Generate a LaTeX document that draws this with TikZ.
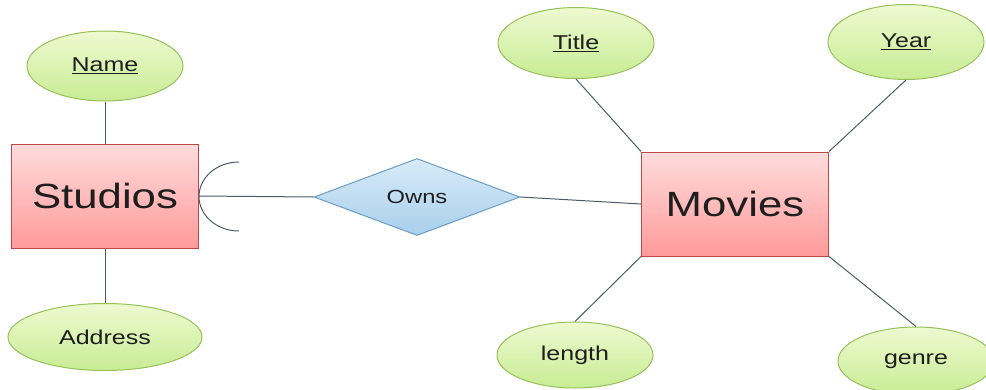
\documentclass[tikz,border=0pt]{standalone}
\usepackage{fontspec}
\setmainfont{Liberation Sans}[FakeStretch=1.25]
\usetikzlibrary{shapes.geometric}
\definecolor{attrtop}{HTML}{EDFAD0}
\definecolor{attrbot}{HTML}{C8EC94}
\definecolor{attrline}{HTML}{98C05A}
\definecolor{enttop}{HTML}{FFDCDC}
\definecolor{entbot}{HTML}{FF9A9A}
\definecolor{entline}{HTML}{BC4848}
\definecolor{reltop}{HTML}{D8EBF8}
\definecolor{relbot}{HTML}{A8CFEB}
\definecolor{relline}{HTML}{6C9DC4}
\definecolor{linkgray}{HTML}{505A66}
\definecolor{inkgray}{HTML}{1E1E1E}

\begin{document}
\begin{tikzpicture}[
    x=1pt,y=-1pt,
    attr/.style={ellipse,draw=attrline,line width=1pt,
        top color=attrtop,bottom color=attrbot,text=inkgray,
        minimum width=156pt,minimum height=70pt,inner sep=0pt,
        font=\fontsize{20}{22}\selectfont},
    entity/.style={rectangle,draw=entline,line width=1pt,
        top color=enttop,bottom color=entbot,text=inkgray,
        minimum width=187pt,minimum height=104pt,inner sep=0pt,
        font=\fontsize{35}{38}\selectfont},
    rel/.style={diamond,draw=relline,line width=1pt,
        top color=reltop,bottom color=relbot,aspect=2.66,text=inkgray,
        minimum width=206pt,minimum height=77pt,inner sep=0pt,
        font=\fontsize{19}{21}\selectfont},
    link/.style={draw=linkgray,line width=1pt},
    ]

    % Picture frame
    \useasboundingbox (0,0) rectangle (986,389);

    % Entities
    \node[entity] (studios) at (105,196) {Studios};
    \node[entity] (movies) at (735,204) {Movies};

    % Relationship
    \node[rel] (owns) at (417,197) {Owns};

    % Attributes of Studios
    \node[attr] (name) at (105,66) {\underline{Name}};
    \node[attr,minimum width=194pt,minimum height=67pt] (address) at (105,337) {Address};

    % Attributes of Movies
    \node[attr,minimum height=71pt] (title) at (576,43) {\underline{Title}};
    \node[attr,minimum height=75pt] (year) at (906,42) {\underline{Year}};
    \node[attr,minimum height=66pt] (length) at (575,355) {length};
    \node[attr,minimum width=156pt,minimum height=68pt] (genre) at (916,361) {genre};

    % Attribute links
    \draw[link] (name) -- (studios);
    \draw[link] (studios) -- (address);
    \draw[link] (title.south) -- (movies.north west);
    \draw[link] (year.south) -- (movies.north east);
    \draw[link] (length.north) -- (movies.south west);
    \draw[link] (genre.north) -- (movies.south east);

    % Relationship links
    \draw[link] (studios.east) -- (owns.west);
    \draw[link] (owns.east) -- (movies.west);

    % Round arrow at Studios
    \coordinate (arctop) at (239,162);
    \draw[link] (arctop) arc[start angle=90,end angle=270,x radius=40pt,y radius=34.5pt];

\end{tikzpicture}
\end{document}
